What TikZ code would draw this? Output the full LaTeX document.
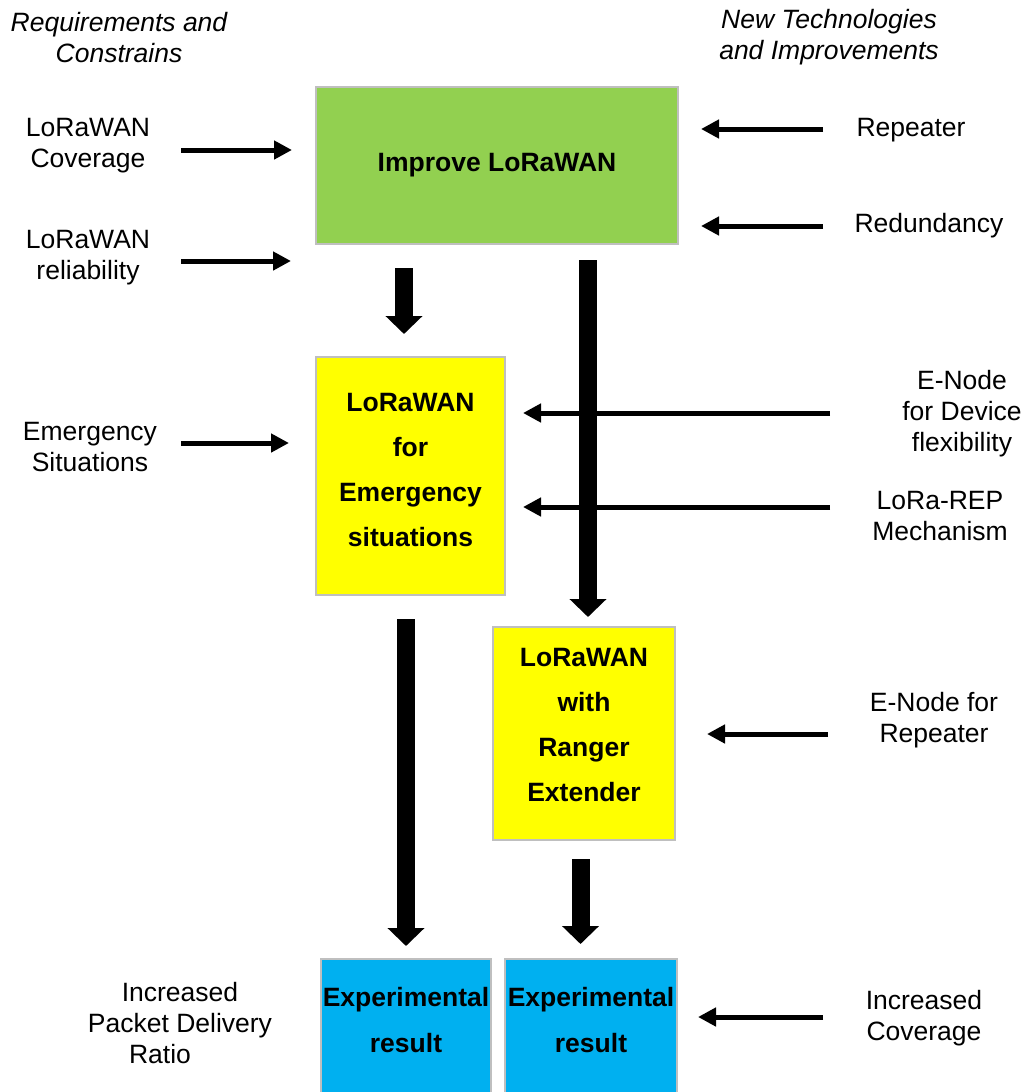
\documentclass[tikz,border=0pt]{standalone}
\usepackage{fontspec}
\setmainfont{Liberation Sans}
\usetikzlibrary{arrows.meta,calc}
\definecolor{boxgreen}{HTML}{92D050}
\definecolor{boxyellow}{HTML}{FFFF00}
\definecolor{boxblue}{HTML}{00B0F0}
\definecolor{boxedge}{HTML}{BFBFBF}
\begin{document}
\begin{tikzpicture}[x=1pt,y=-1pt,
  box/.style={draw=boxedge,line width=2pt,rectangle,inner sep=0pt,align=center,
    font=\fontsize{26.5}{45}\selectfont\bfseries},
  boxtext/.style={align=center,inner sep=0pt,font=\fontsize{26.5}{46}\selectfont\bfseries},
  lbl/.style={align=center,inner sep=0pt,font=\fontsize{26.5}{31}\selectfont},
  head/.style={lbl,font=\fontsize{26.5}{31}\selectfont\itshape},
  thinarrow/.style={line width=5pt,-{Triangle[length=18pt,width=18pt]}},
  bigarrow/.style={line width=18pt,-{Triangle[length=18pt,width=36pt]}}]
\useasboundingbox (0,0) rectangle (1028,1092);
\clip (0,0) rectangle (1028,1092);

% column headings
\node[head] (reqhead) at (119,37.5) {Requirements and\\Constrains};
\node[head] (techhead) at (829,37.5) {New Technologies\\and Improvements};

% process boxes
\node[box,fill=boxgreen,minimum width=362pt,minimum height=157pt] (green) at (497,165.5) {Improve LoRaWAN};
\node[box,fill=boxyellow,minimum width=189pt,minimum height=238pt,text depth=12pt] (emerbox) at (410.5,476)
  {LoRaWAN\\for\\Emergency\\situations};
\node[box,fill=boxyellow,minimum width=182pt,minimum height=213pt,text depth=18pt] (ranger) at (584,733.5)
  {LoRaWAN\\with\\Ranger\\Extender};
\node[box,fill=boxblue,anchor=north,minimum width=170pt,minimum height=150pt] (exp1) at (406,958) {};
\node[box,fill=boxblue,anchor=north,minimum width=172pt,minimum height=150pt] (exp2) at (591,958) {};
\node[boxtext] (exp1t) at (406,1020) {Experimental\\result};
\node[boxtext] (exp2t) at (591,1020) {Experimental\\result};

% left-hand requirements
\node[lbl] (lcov) at (88,146) {LoRaWAN\\Coverage};
\node[lbl] (lrel) at (88,258) {LoRaWAN\\reliability};
\node[lbl] (emerg) at (90,447) {Emergency\\Situations};
\node[lbl] (incpdr) at (180,1023) {Increased\\Packet Delivery\\Ratio\hspace*{40pt}};

% right-hand technologies
\node[lbl] (rep) at (911,130) {Repeater};
\node[lbl] (red) at (929,226) {Redundancy};
\node[lbl] (enode1) at (962,414) {E-Node\\for Device\\flexibility};
\node[lbl] (lorarep) at (940,516) {LoRa-REP\\Mechanism};
\node[lbl] (enode2) at (934,720) {E-Node for\\Repeater};
\node[lbl] (inccov) at (924,1018) {Increased\\Coverage};

% arrow tails beside the labels
\coordinate (a1) at (181,150);
\coordinate (a2) at (181,261);
\coordinate (a3) at (181,443);
\coordinate (a4) at (823,129);
\coordinate (a5) at (823,226);
\coordinate (a6) at (830,413);
\coordinate (a7) at (830,507);
\coordinate (a8) at (828,734);
\coordinate (a9) at (823,1017);

% thin input arrows
\draw[thinarrow,shorten >=23pt] (a1) -- (a1 -| green.west);
\draw[thinarrow,shorten >=24pt] (a2) -- (a2 -| green.west);
\draw[thinarrow,shorten >=26pt] (a3) -- (a3 -| emerbox.west);
\draw[thinarrow,shorten >=22pt] (a4) -- (a4 -| green.east);
\draw[thinarrow,shorten >=22pt] (a5) -- (a5 -| green.east);
\draw[thinarrow,shorten >=17pt] (a6) -- (a6 -| emerbox.east);
\draw[thinarrow,shorten >=17pt] (a7) -- (a7 -| emerbox.east);
\draw[thinarrow,shorten >=31pt] (a8) -- (a8 -| ranger.east);
\draw[thinarrow,shorten >=20pt] (a9) -- (a9 -| exp2.east);

% thick flow arrows
\draw[bigarrow,shorten <=23pt,shorten >=22pt]
  ([xshift=-6.5pt]emerbox.north |- green.south) -- ([xshift=-6.5pt]emerbox.north);
\draw[bigarrow,shorten <=15pt,shorten >=9pt]
  ([xshift=4pt]ranger.north |- green.south) -- ([xshift=4pt]ranger.north);
\draw[bigarrow,shorten <=23pt,shorten >=12pt]
  (exp1.north |- emerbox.south) -- (exp1.north);
\draw[bigarrow,shorten <=18pt,shorten >=14pt]
  ([xshift=-3.5pt]ranger.south) -- ([xshift=-3.5pt]ranger.south |- exp2.north);
\end{tikzpicture}
\end{document}
